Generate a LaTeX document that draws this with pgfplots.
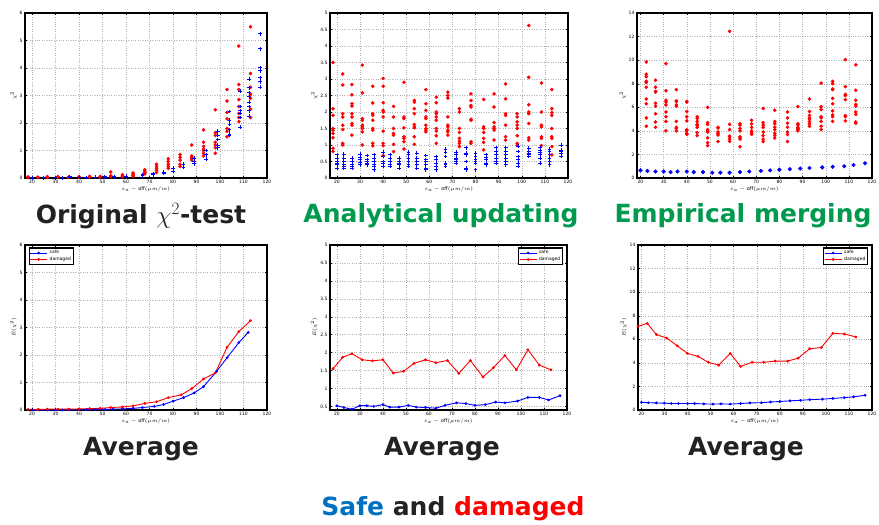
\documentclass[border=0pt]{standalone}
\usepackage{fontspec}
\setmainfont{DejaVu Sans}
\usepackage{pgfplots}
\pgfplotsset{compat=1.18}
\definecolor{ttlgreen}{HTML}{009A4E}
\definecolor{safeblue}{HTML}{0070C0}
\definecolor{txtdark}{HTML}{222222}

\pgfplotsset{
  mat/.style={
    scale only axis, anchor=north west,
    xmin=17, xmax=120, xtick={20,30,...,120},
    axis line style={line width=1.3pt},
    grid=major, major grid style={dotted, gray!60, line width=0.4pt},
    tick align=inside, major tick length=2pt,
    tick style={line width=0.4pt, black},
    ticklabel style={font=\fontsize{4.5}{5}\selectfont},
    /pgf/number format/assume math mode=true,
    label style={font=\fontsize{5}{6}\selectfont},
    xlabel={$\varepsilon_a-\mathrm{off}(\mu m/m)$},
    xlabel style={yshift=4pt},
    ylabel style={yshift=-4pt},
    xticklabel style={yshift=1pt},
    yticklabel style={xshift=1pt},
    scaled ticks=false,
    legend style={font=\fontsize{4.5}{5}\selectfont, draw=black, line width=1.2pt,
      inner sep=0.5pt, row sep=-2.5pt},
    legend cell align=left,
  },
  rdot/.style={only marks, mark=*, mark size=1.6pt, color=red},
  bplus/.style={only marks, mark=+, mark size=1.9pt, color=blue, line width=0.8pt},
  bdot/.style={only marks, mark=*, mark size=1.9pt, color=blue},
  bline/.style={color=blue, line width=0.9pt, mark=*, mark size=0.9pt},
  rline/.style={color=red, line width=0.9pt, mark=*, mark size=0.9pt},
}

\begin{document}
\begin{tikzpicture}
\path[use as bounding box] (0pt,0pt) rectangle (879pt,-525pt);

% ---------- top left: original chi2 ----------
\begin{axis}[mat, at={(25pt,-13pt)}, width=242pt, height=165pt,
  ymin=0, ymax=6, ytick={0,1,...,6}, ylabel={$\chi^2$}]
\addplot[rdot] coordinates {
 (18.3,0.02) (18.3,0.04) (22.5,0.02) (22.5,0.03) (26.5,0.05) (26.5,0.02) (31,0.03) (31,0.05)
 (35.5,0.03) (35.5,0.02) (40,0.05) (40,0.02) (44.5,0.06) (44.5,0.03) (49,0.06) (49,0.03)
 (53.5,0.22) (53.5,0.08) (53.5,0.05) (58.5,0.12) (58.5,0.08) (58.5,0.05)
 (63,0.18) (63,0.15) (63,0.1) (63,0.07) (68,0.3) (68,0.25) (68,0.2) (68,0.15)
 (73,0.5) (73,0.42) (73,0.35) (73,0.28) (73,0.2) (78,0.7) (78,0.6) (78,0.5) (78,0.42) (78,0.35)
 (83,0.85) (83,0.75) (83,0.65) (83,0.5) (83,0.42) (88,1.2) (88,0.8) (88,0.75) (88,0.7) (88,0.65)
 (93,1.75) (93,1.3) (93,1.15) (93,1.05) (93,1.0) (93,0.9) (93,0.8)
 (98,2.48) (98,1.65) (98,1.55) (98,1.3) (98,1.2) (98,1.1) (98,0.9)
 (103,3.22) (103,2.8) (103,2.38) (103,2.15) (103,1.8) (103,1.7) (103,1.5)
 (108,4.8) (108,3.4) (108,3.22) (108,2.85) (108,2.6) (108,2.35) (108,2.2) (108,2.05)
 (113,5.5) (113,3.8) (113,3.3) (113,3.05) (113,2.9) (113,2.5) (113,2.2)
};
\addplot[bplus] coordinates {
 (20,0.01) (25,0.01) (30,0.01) (33,0.01) (36,0.05) (36,0.02) (40,0.02) (43,0.02) (47,0.03)
 (51,0.05) (51,0.03) (55,0.05) (60,0.06) (67,0.12) (67,0.08) (71.5,0.15) (71.5,0.12)
 (76,0.22) (76,0.18) (80,0.35) (80,0.25) (84.5,0.5) (84.5,0.4) (89,0.72) (89,0.6) (89,0.52)
 (94,1.0) (94,0.85) (94,0.68) (99,1.7) (99,1.55) (99,1.4) (99,1.2) (99,1.1)
 (104,2.42) (104,2.1) (104,1.95) (104,1.75) (104,1.6) (104,1.55)
 (108.5,3.15) (108.5,2.6) (108.5,2.45) (108.5,2.35) (108.5,2.2) (108.5,1.85)
 (112.5,3.6) (112.5,3.28) (112.5,3.1) (112.5,2.95) (112.5,2.75) (112.5,2.6) (112.5,2.45) (112.5,2.25)
 (117,5.25) (117,4.7) (117,4.02) (117,3.9) (117,3.65) (117,3.5) (117,3.3)
};
\node[anchor=south west, font=\fontsize{4.5}{5}\selectfont, inner sep=1pt] at (rel axis cs:0,1) {$\times10^{5}$};
\end{axis}

% ---------- top middle: analytical updating ----------
\begin{axis}[mat, at={(330pt,-13pt)}, width=238pt, height=165pt,
  ymin=0, ymax=5, ytick={0,0.5,...,5}, ylabel={$\chi^2$}]
\addplot[rdot] coordinates {
 (18.3,3.5) (18.3,2.1) (18.3,1.9) (18.3,1.5) (18.3,1.45) (18.3,1.35) (18.3,1.22) (18.3,0.9) (18.3,0.8)
 (22.5,3.15) (22.5,2.82) (22.5,1.95) (22.5,1.85) (22.5,1.6) (22.5,1.47) (22.5,1.05) (22.5,1.0)
 (26.5,2.83) (26.5,2.52) (26.5,2.25) (26.5,2.18) (26.5,1.95) (26.5,1.85) (26.5,1.65) (26.5,1.6) (26.5,1.3)
 (31,3.42) (31,2.58) (31,1.8) (31,1.75) (31,1.6) (31,1.55) (31,1.5) (31,1.4) (31,1.0)
 (35.5,2.78) (35.5,2.27) (35.5,1.95) (35.5,1.9) (35.5,1.75) (35.5,1.5) (35.5,1.45) (35.5,1.05) (35.5,0.98)
 (40,3.02) (40,2.78) (40,2.28) (40,2.05) (40,2.0) (40,1.85) (40,1.42) (40,1.05) (40,0.98) (40,0.68)
 (44.5,2.17) (44.5,1.85) (44.5,1.5) (44.5,1.35) (44.5,1.3) (44.5,1.02) (44.5,0.8)
 (49,2.9) (49,1.85) (49,1.8) (49,1.52) (49,1.25) (49,1.2) (49,1.1) (49,0.88)
 (53.5,2.35) (53.5,2.3) (53.5,2.1) (53.5,1.95) (53.5,1.62) (53.5,1.55) (53.5,1.52) (53.5,1.25) (53.5,1.02)
 (58.5,2.68) (58.5,2.25) (58.5,2.05) (58.5,1.85) (58.5,1.8) (58.5,1.6) (58.5,1.5) (58.5,1.45) (58.5,1.4)
 (63,2.45) (63,2.28) (63,2.0) (63,1.95) (63,1.85) (63,1.75) (63,1.5) (63,1.42) (63,1.28) (63,1.05)
 (68,2.6) (68,2.5) (68,2.42) (68,1.85) (68,1.6) (68,1.55) (68,1.45) (68,1.4) (68,1.3)
 (73,2.1) (73,2.0) (73,1.5) (73,1.38) (73,1.2) (73,1.12) (73,1.05) (73,0.95)
 (78,2.55) (78,2.35) (78,2.2) (78,2.15) (78,1.78) (78,1.75) (78,1.1) (78,1.05)
 (83.5,2.38) (83.5,1.55) (83.5,1.5) (83.5,1.38) (83.5,1.2) (83.5,1.08) (83.5,0.85)
 (88,2.55) (88,2.15) (88,1.68) (88,1.55) (88,1.5) (88,1.45) (88,1.15)
 (93,2.85) (93,2.4) (93,1.95) (93,1.9) (93,1.6) (93,1.25) (93,1.15)
 (98,1.95) (98,1.85) (98,1.7) (98,1.6) (98,1.5) (98,1.28) (98,1.05) (98,0.98)
 (103,4.62) (103,3.05) (103,2.22) (103,2.0) (103,1.95) (103,1.65) (103,1.22) (103,1.15)
 (108.5,2.88) (108.5,2.0) (108.5,1.6) (108.5,1.55) (108.5,1.25) (108.5,1.2) (108.5,0.98)
 (113,2.68) (113,2.1) (113,1.98) (113,1.9) (113,1.5) (113,1.25) (113,1.2) (113,0.95) (113,0.7)
};
\addplot[bplus] coordinates {
 (20,0.7) (20,0.6) (20,0.5) (20,0.45) (20,0.4) (20,0.3)
 (23,0.72) (23,0.6) (23,0.5) (23,0.4) (23,0.35) (23,0.3)
 (26.5,0.6) (26.5,0.5) (26.5,0.4) (26.5,0.35) (26.5,0.3)
 (30,0.72) (30,0.62) (30,0.55) (30,0.48) (30,0.4)
 (33,0.68) (33,0.55) (33,0.5) (33,0.45) (33,0.4)
 (36,0.7) (36,0.6) (36,0.5) (36,0.4) (36,0.35) (36,0.25)
 (40,0.78) (40,0.65) (40,0.5) (40,0.45) (40,0.35)
 (43,0.7) (43,0.6) (43,0.5) (43,0.4) (43,0.35)
 (47,0.6) (47,0.5) (47,0.45) (47,0.4) (47,0.3)
 (51,0.78) (51,0.7) (51,0.6) (51,0.5) (51,0.4) (51,0.35)
 (54.5,0.75) (54.5,0.6) (54.5,0.5) (54.5,0.4) (54.5,0.3)
 (58.5,0.68) (58.5,0.55) (58.5,0.5) (58.5,0.4) (58.5,0.3) (58.5,0.25)
 (63,0.65) (63,0.55) (63,0.45) (63,0.35) (63,0.25)
 (67,0.88) (67,0.78) (67,0.65) (67,0.45) (67,0.4) (67,0.35)
 (71.5,0.78) (71.5,0.7) (71.5,0.6) (71.5,0.55) (71.5,0.5) (71.5,0.45)
 (76,0.92) (76,0.75) (76,0.7) (76,0.5) (76,0.3) (76,0.25)
 (80,0.75) (80,0.65) (80,0.55) (80,0.5) (80,0.45) (80,0.25)
 (84.5,0.7) (84.5,0.62) (84.5,0.55) (84.5,0.45) (84.5,0.4)
 (89,0.92) (89,0.8) (89,0.7) (89,0.6) (89,0.5) (89,0.45)
 (93,0.92) (93,0.8) (93,0.7) (93,0.6) (93,0.5) (93,0.4)
 (98.5,0.97) (98.5,0.8) (98.5,0.65) (98.5,0.55) (98.5,0.45) (98.5,0.35)
 (103,0.9) (103,0.82) (103,0.75) (103,0.7) (103,0.65)
 (108,0.92) (108,0.85) (108,0.78) (108,0.7) (108,0.6) (108,0.45)
 (112,0.88) (112,0.8) (112,0.7) (112,0.6) (112,0.5) (112,0.4)
 (117,1.0) (117,0.85) (117,0.8) (117,0.75) (117,0.65)
};
\node[anchor=south west, font=\fontsize{4.5}{5}\selectfont, inner sep=1pt] at (rel axis cs:0,1) {$\times10^{4}$};
\end{axis}

% ---------- top right: empirical merging ----------
\begin{axis}[mat, at={(637pt,-13pt)}, width=235pt, height=165pt, xmin=18.5,
  ymin=0, ymax=14, ytick={0,2,...,14}, ylabel={$\chi^2$}]
\addplot[rdot] coordinates {
 (18.3,13.4) (18.3,9.1) (18.3,7.1) (18.3,6.9) (18.3,6.5) (18.3,6.1) (18.3,5.7) (18.3,5.6) (18.3,4.5)
 (22.5,9.85) (22.5,8.8) (22.5,8.6) (22.5,8.2) (22.5,8.1) (22.5,7.7) (22.5,6.7) (22.5,6.3) (22.5,5.1) (22.5,4.4)
 (26.5,8.3) (26.5,7.7) (26.5,7.35) (26.5,7.3) (26.5,6.35) (26.5,6.1) (26.5,5.45) (26.5,4.75) (26.5,4.3)
 (31,9.7) (31,7.4) (31,6.6) (31,6.45) (31,6.2) (31,5.6) (31,5.2) (31,4.8) (31,4.0)
 (35.5,7.5) (35.5,6.55) (35.5,6.5) (35.5,6.2) (35.5,6.1) (35.5,4.8) (35.5,4.3) (35.5,4.2) (35.5,4.0)
 (40,6.5) (40,6.45) (40,5.65) (40,5.2) (40,4.85) (40,4.1) (40,4.0) (40,3.8) (40,3.7)
 (44.5,5.2) (44.5,5.05) (44.5,4.8) (44.5,4.55) (44.5,4.45) (44.5,4.3) (44.5,3.85) (44.5,3.6)
 (49,6.0) (49,4.7) (49,4.55) (49,4.1) (49,4.0) (49,3.9) (49,3.4) (49,3.0) (49,2.75)
 (53.5,4.3) (53.5,4.25) (53.5,3.9) (53.5,3.75) (53.5,3.65) (53.5,3.1)
 (58.5,12.45) (58.5,4.55) (58.5,4.1) (58.5,3.55) (58.5,3.5) (58.5,3.3) (58.5,3.1)
 (63,4.6) (63,4.5) (63,4.2) (63,4.0) (63,3.5) (63,3.4) (63,3.3) (63,2.65)
 (68,4.9) (68,4.6) (68,4.3) (68,4.0) (68,3.9) (68,3.8) (68,3.7)
 (73,5.9) (73,4.7) (73,4.5) (73,4.3) (73,3.9) (73,3.6) (73,3.3) (73,3.1)
 (78,5.75) (78,4.8) (78,4.6) (78,4.3) (78,4.1) (78,3.8) (78,3.6) (78,3.4)
 (83.5,5.6) (83.5,5.1) (83.5,4.65) (83.5,4.3) (83.5,3.9) (83.5,3.7) (83.5,3.1)
 (88,6.05) (88,4.6) (88,4.5) (88,4.3) (88,4.2) (88,4.1) (88,4.0)
 (93,6.7) (93,5.65) (93,5.3) (93,5.1) (93,5.0) (93,4.8) (93,4.6) (93,4.4)
 (98,8.05) (98,6.05) (98,5.8) (98,5.2) (98,5.1) (98,4.8) (98,4.4) (98,4.1)
 (103,8.2) (103,8.0) (103,7.55) (103,7.5) (103,6.75) (103,6.3) (103,5.7) (103,5.35) (103,5.2) (103,4.8)
 (108.5,10.05) (108.5,7.75) (108.5,7.1) (108.5,7.0) (108.5,6.65) (108.5,5.3) (108.5,5.2) (108.5,4.85)
 (113,9.6) (113,7.45) (113,6.6) (113,6.25) (113,6.1) (113,5.6) (113,5.4) (113,4.75) (113,4.65)
};
\addplot[bdot] coordinates {
 (20,0.65) (23,0.6) (26.5,0.55) (30,0.55) (33,0.5) (36,0.55) (40,0.55) (43,0.5) (47,0.5)
 (51,0.45) (54.5,0.45) (58.5,0.45) (63,0.5) (67,0.55) (72,0.6) (76,0.65) (80,0.7) (84.5,0.75)
 (89,0.8) (93,0.85) (98.5,0.9) (103,0.95) (108,1.0) (112,1.1) (117,1.25)
};
\node[anchor=south west, font=\fontsize{4.5}{5}\selectfont, inner sep=1pt] at (rel axis cs:0,1) {$\times10^{4}$};
\end{axis}

% ---------- bottom left: average ----------
\begin{axis}[mat, at={(25pt,-245pt)}, width=242pt, height=165pt,
  ymin=0, ymax=6, ytick={0,1,...,6}, ylabel={$E(\chi^2)$},
  legend style={at={(0.015,0.985)}, anchor=north west}]
\addplot[bline] coordinates {
 (20,0.0) (23,0.0) (26.5,0.0) (30,0.0) (33,0.0) (36,0.01) (40,0.01) (43,0.01) (47,0.02)
 (51,0.02) (54.5,0.03) (58.5,0.04) (63,0.06) (67,0.09) (72,0.13) (76,0.2) (80,0.32) (84.5,0.45)
 (89,0.62) (93,0.85) (98.5,1.4) (103,1.9) (108,2.45) (112,2.82)
};
\addlegendentry{safe}
\addplot[rline] coordinates {
 (18.3,0.02) (22.5,0.02) (26.5,0.03) (31,0.03) (35.5,0.03) (40,0.04) (44.5,0.05) (49,0.06)
 (53.5,0.09) (58.5,0.11) (63,0.15) (68,0.24) (73,0.3) (78,0.45) (83.5,0.55) (88,0.78)
 (93,1.13) (98,1.35) (103,2.28) (108,2.85) (113,3.25)
};
\addlegendentry{damaged}
\node[anchor=south west, font=\fontsize{4.5}{5}\selectfont, inner sep=1pt] at (rel axis cs:0,1) {$\times10^{5}$};
\end{axis}

% ---------- bottom middle: average ----------
\begin{axis}[mat, at={(330pt,-245pt)}, width=237pt, height=165pt,
  ymin=0.4, ymax=5, ytick={0.5,1,...,5}, ylabel={$E(\chi^2)$},
  legend style={at={(0.985,0.985)}, anchor=north east}]
\addplot[bline] coordinates {
 (20,0.52) (23,0.47) (26.5,0.42) (30,0.52) (33,0.52) (36,0.5) (40,0.55) (43,0.48) (47,0.48)
 (51,0.53) (54.5,0.48) (58.5,0.47) (63,0.45) (67,0.53) (72,0.6) (76,0.58) (80,0.53) (84.5,0.55)
 (89,0.62) (93,0.6) (98.5,0.65) (103,0.75) (108,0.75) (112,0.68) (117,0.8)
};
\addlegendentry{safe}
\addplot[rline] coordinates {
 (18.3,1.55) (22.5,1.87) (26.5,1.97) (31,1.8) (35.5,1.77) (40,1.8) (44.5,1.43) (49,1.48)
 (53.5,1.7) (58.5,1.8) (63,1.72) (68,1.78) (73,1.42) (78,1.78) (83.5,1.32) (88,1.58)
 (93,1.92) (98,1.52) (103,2.08) (108,1.65) (113,1.52)
};
\addlegendentry{damaged}
\node[anchor=south west, font=\fontsize{4.5}{5}\selectfont, inner sep=1pt] at (rel axis cs:0,1) {$\times10^{4}$};
\end{axis}

% ---------- bottom right: average ----------
\begin{axis}[mat, at={(638pt,-245pt)}, width=234pt, height=165pt, xmin=18.5,
  ymin=0, ymax=14, ytick={0,2,...,14}, ylabel={$E(\chi^2)$},
  legend style={at={(0.985,0.985)}, anchor=north east}]
\addplot[bline] coordinates {
 (20,0.65) (23,0.62) (26.5,0.6) (30,0.58) (33,0.55) (36,0.55) (40,0.55) (43,0.55) (47,0.52)
 (51,0.5) (54.5,0.52) (58.5,0.5) (63,0.55) (67,0.6) (72,0.62) (76,0.68) (80,0.72) (84.5,0.78)
 (89,0.82) (93,0.88) (98.5,0.92) (103,0.98) (108,1.05) (112,1.12) (117,1.25)
};
\addlegendentry{safe}
\addplot[rline] coordinates {
 (18.5,7.1) (22.5,7.35) (26.5,6.4) (31,6.1) (35.5,5.45) (40,4.8) (44.5,4.55) (49,4.05)
 (53.5,3.8) (58.5,4.8) (63,3.7) (68,4.05) (73,4.05) (78,4.15) (83.5,4.15) (88,4.4)
 (93,5.2) (98,5.3) (103,6.5) (108,6.45) (113,6.2)
};
\addlegendentry{damaged}
\node[anchor=south west, font=\fontsize{4.5}{5}\selectfont, inner sep=1pt] at (rel axis cs:0,1) {$\times10^{4}$};
\end{axis}

% ---------- captions ----------
\begin{scope}[every node/.style={font=\fontsize{25}{28}\selectfont\bfseries, inner sep=0pt}]
\node[text=txtdark] at (141pt,-216pt) {Original $\chi^2$-test};
\node[text=ttlgreen] at (441pt,-216pt) {Analytical updating};
\node[text=ttlgreen] at (743pt,-216pt) {Empirical merging};
\node[text=txtdark] at (141pt,-449pt) {Average};
\node[text=txtdark] at (442pt,-449pt) {Average};
\node[text=txtdark] at (746pt,-449pt) {Average};
\node at (453pt,-509pt) {\textcolor{safeblue}{Safe} \textcolor{txtdark}{and} \textcolor{red}{damaged}};
\end{scope}
\end{tikzpicture}
\end{document}
